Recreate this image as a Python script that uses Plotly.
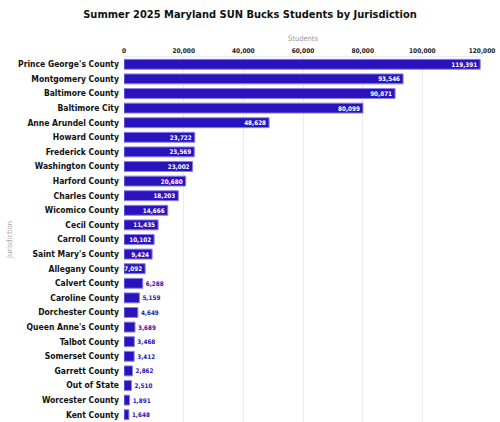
import plotly.graph_objects as go

jurisdictions = ["Prince George's County", "Montgomery County", "Baltimore County", "Baltimore City",
                 "Anne Arundel County", "Howard County", "Frederick County", "Washington County",
                 "Harford County", "Charles County", "Wicomico County", "Cecil County", "Carroll County",
                 "Saint Mary's County", "Allegany County", "Calvert County", "Caroline County",
                 "Dorchester County", "Queen Anne's County", "Talbot County", "Somerset County",
                 "Garrett County", "Out of State", "Worcester County", "Kent County"]
students = [119391, 93546, 90871, 80099, 48628, 23722, 23569, 23002, 20680, 18203, 14666, 11435,
            10102, 9424, 7092, 6288, 5159, 4649, 3689, 3468, 3412, 2862, 2510, 1891, 1648]
tick_vals = [0, 20000, 40000, 60000, 80000, 100000, 120000]
tick_text = ["0", "20,000", "40,000", "60,000", "80,000", "100,000", "120,000"]

BAR = "#2a12bd"
FONT = "DejaVu Sans Condensed, Roboto Condensed, Roboto, sans-serif"

positions = ["inside" if v >= 7000 else "outside" for v in students]
labels = [f"{v:,}" for v in students]

fig = go.Figure(go.Bar(
    y=jurisdictions, x=students, orientation="h",
    marker=dict(color=BAR, line=dict(color="#8a80e6", width=1)),
    text=labels, textposition=positions,
    insidetextanchor="end",
    insidetextfont=dict(color="white", size=6.3, family=FONT, weight="bold"),
    outsidetextfont=dict(color=BAR, size=6.3, family=FONT, weight="bold"),
    constraintext="none", cliponaxis=False,
))

fig.update_layout(
    width=500, height=422,
    margin=dict(l=124, r=18, t=57, b=0, autoexpand=False),
    paper_bgcolor="white", plot_bgcolor="white",
    bargap=0.32,
    showlegend=False,
    title=dict(text="Summer 2025 Maryland SUN Bucks Students by Jurisdiction",
               x=0.5, xanchor="center", y=0.976, yanchor="top",
               font=dict(family=FONT, size=11, color="#111", weight="bold")),
    xaxis=dict(side="top", range=[0, 120000], tickvals=tick_vals, ticktext=tick_text,
               tickfont=dict(family=FONT, size=6.5, color="#222", weight="bold"),
               showgrid=True, gridcolor="#ebebf0", gridwidth=1, zeroline=False,
               showline=True, linecolor="#ebebf0", mirror=False, automargin=False,
               title=dict(text="Students", font=dict(family=FONT, size=7.5, color="#999"), standoff=4),
               ticks="", ticklen=0),
    yaxis=dict(autorange="reversed", categoryorder="array", categoryarray=jurisdictions,
               tickfont=dict(family=FONT, size=8.5, color="#111", weight="bold"),
               ticks="", ticklabelstandoff=4, automargin=False,
               title=dict(text="Jurisdiction", font=dict(family=FONT, size=7.5, color="#aaa"), standoff=4),
               showgrid=False, zeroline=False),
)

fig.write_html("out.html")
